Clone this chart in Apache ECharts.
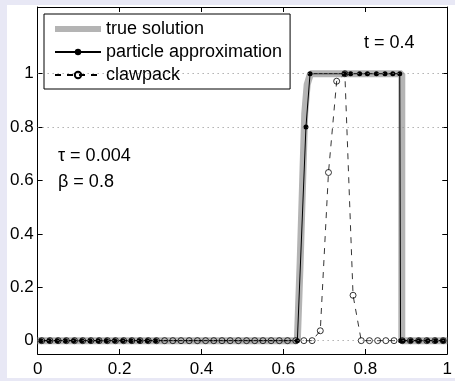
<!DOCTYPE html>
<html>
<head>
<meta charset="utf-8">
<script src="https://cdn.jsdelivr.net/npm/echarts@6/dist/echarts.min.js"></script>
<style>
  body { margin: 0; background: #e8e8f5; }
  #chart { position: absolute; left: 7px; top: 5px; width: 448px; height: 373px; background: #fff; }
</style>
</head>
<body>
<div id="chart"></div>
<script>
// exact solution (shock front)
var trueX = [0, 0.634, 0.641, 0.647, 0.652, 0.658, 0.666, 0.889, 0.889, 1]
var trueY = [0, 0, 0.3, 0.6, 0.85, 0.96, 1, 1, 0, 0]

// particle positions / values
var partX = [0.008, 0.028, 0.048, 0.068, 0.088, 0.108, 0.128, 0.148, 0.168, 0.188, 0.208, 0.228, 0.248, 0.268, 0.288,
  0.634, 0.655, 0.665, 0.749, 0.764, 0.786, 0.805, 0.827, 0.848, 0.867, 0.884,
  0.886, 0.892, 0.911, 0.930, 0.952, 0.971, 0.990]
var partY = [0, 0, 0, 0, 0, 0, 0, 0, 0, 0, 0, 0, 0, 0, 0,
  0, 0.8, 1, 1, 1, 1, 1, 1, 1, 1, 1,
  0, 0, 0, 0, 0, 0, 0]

// clawpack cell centres / values
var clawX = [0.01, 0.03, 0.05, 0.07, 0.09, 0.11, 0.13, 0.15, 0.17, 0.19,
  0.21, 0.23, 0.25, 0.27, 0.29, 0.31, 0.33, 0.35, 0.37, 0.39,
  0.41, 0.43, 0.45, 0.47, 0.49, 0.51, 0.53, 0.55, 0.57, 0.59,
  0.61, 0.63, 0.65, 0.67, 0.69, 0.71, 0.73, 0.75, 0.77, 0.79,
  0.81, 0.83, 0.85, 0.87, 0.89, 0.91, 0.93, 0.95, 0.97, 0.99]
var clawY = [0, 0, 0, 0, 0, 0, 0, 0, 0, 0,
  0, 0, 0, 0, 0, 0, 0, 0, 0, 0,
  0, 0, 0, 0, 0, 0, 0, 0, 0, 0,
  0, 0, 0, 0, 0.037, 0.63, 0.972, 1, 0.17, 0,
  0, 0, 0, 0, 0, 0, 0, 0, 0, 0]

var yTicks = [0, 0.2, 0.4, 0.6, 0.8, 1]
var gridLines = [0, 0.8, 1]

function zip(xs, ys) {
  return xs.map(function (x, i) { return [x, ys[i]] })
}

var font = 'Liberation Sans, Arial, Helvetica, sans-serif'
var myChart = echarts.init(document.getElementById('chart'))

var xBase = {
  type: 'value', min: 0, max: 1, interval: 0.2,
  axisLine: { onZero: false, lineStyle: { color: '#000', width: 1 } },
  axisTick: { inside: true, length: 5, lineStyle: { color: '#000' } },
  splitLine: { show: false }
}
var yBase = {
  type: 'value', min: -0.05, max: 1.25,
  axisLine: { show: true, onZero: false, lineStyle: { color: '#000', width: 1 } },
  axisTick: { inside: true, length: 5, customValues: yTicks, lineStyle: { color: '#000' } },
  splitLine: { show: false }
}

var option = {
  animation: false,
  grid: { left: 30, right: 2, top: 2, bottom: 20 },
  legend: {
    orient: 'vertical',
    left: 37, top: 9,
    padding: [6, 8, 5, 10],
    itemWidth: 46, itemHeight: 8, itemGap: 5,
    backgroundColor: '#fff',
    borderColor: '#000', borderWidth: 1, borderRadius: 0,
    textStyle: { fontSize: 18, fontFamily: font, color: '#000', lineHeight: 18 },
    data: [
      { name: 'true solution', icon: 'path://M0,0L46,0L46,6L0,6Z', itemStyle: { color: '#b4b4b4' } },
      'particle approximation',
      'clawpack'
    ]
  },
  xAxis: [
    Object.assign({}, xBase, {
      position: 'bottom',
      axisLabel: { margin: 7, fontSize: 17, fontFamily: font, color: '#000' }
    }),
    Object.assign({}, xBase, { position: 'top', axisLabel: { show: false } })
  ],
  yAxis: [
    Object.assign({}, yBase, {
      position: 'left',
      axisLabel: { margin: 4, fontSize: 17, fontFamily: font, color: '#000', customValues: yTicks }
    }),
    Object.assign({}, yBase, { position: 'right', axisLabel: { show: false } })
  ],
  graphic: [
    { type: 'text', left: 357, top: 29, style: { text: 't = 0.4', font: '18px ' + font, fill: '#000' } },
    { type: 'text', left: 51, top: 142, style: { text: 'τ = 0.004', font: '18px ' + font, fill: '#000' } },
    { type: 'text', left: 51, top: 168, style: { text: 'β = 0.8', font: '18px ' + font, fill: '#000' } }
  ],
  series: [
    {
      name: 'true solution',
      type: 'line',
      data: zip(trueX, trueY),
      symbol: 'none',
      lineStyle: { color: '#b4b4b4', width: 7 },
      itemStyle: { color: '#b4b4b4' },
      z: 1,
      markLine: {
        silent: true,
        symbol: 'none',
        label: { show: false },
        lineStyle: { color: '#888', width: 1, type: [1, 4] },
        data: gridLines.map(function (v) { return { yAxis: v } })
      }
    },
    {
      name: 'clawpack',
      type: 'line',
      data: zip(clawX, clawY),
      symbol: 'circle',
      symbolSize: 6,
      lineStyle: { color: '#000', width: 0.8, type: [6, 6] },
      itemStyle: { color: 'rgba(255,255,255,0)', borderColor: '#000', borderWidth: 0.8 },
      z: 3
    },
    {
      name: 'particle approximation',
      type: 'line',
      data: zip(partX, partY),
      symbol: 'circle',
      symbolSize: 5,
      lineStyle: { color: '#000', width: 1 },
      itemStyle: { color: '#000' },
      z: 4
    }
  ]
}

myChart.setOption(option)
</script>
</body>
</html>
